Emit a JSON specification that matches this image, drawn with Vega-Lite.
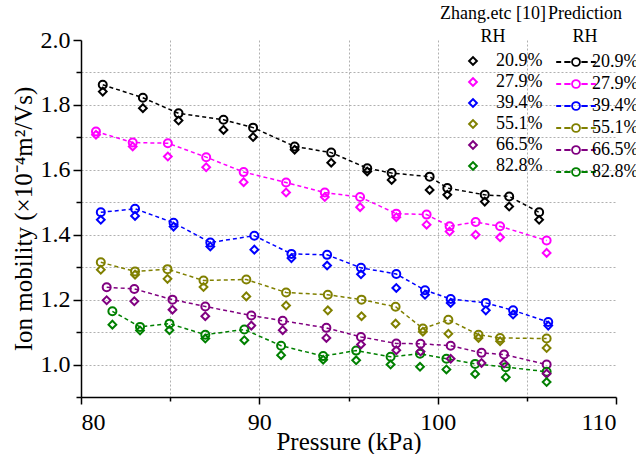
{
  "$schema": "https://vega.github.io/schema/vega-lite/v6.json",
  "width": 535,
  "height": 357,
  "autosize": {"type": "none"},
  "padding": {"left": 81, "top": 40, "right": 20, "bottom": 57},
  "background": "white",
  "config": {
    "view": {"stroke": null},
    "font": "Liberation Serif",
    "axis": {
      "domainColor": "black", "domainWidth": 1.5,
      "tickColor": "black", "tickWidth": 1.5,
      "labelFont": "Liberation Serif", "labelFontSize": 24, "labelColor": "black",
      "titleFont": "Liberation Serif", "titleFontSize": 25, "titleFontWeight": "normal", "titleColor": "black",
      "gridColor": "#b0b0b0", "gridDash": [2, 2], "gridWidth": 1,
      "labelOverlap": false, "labelBound": false
    },
    "legend": {
      "labelFont": "Liberation Serif", "labelFontSize": 18, "labelColor": "black",
      "titleFont": "Liberation Serif", "titleFontSize": 18, "titleFontWeight": "normal", "titleColor": "black",
      "titleAnchor": "middle", "titleAlign": "center", "titleLineHeight": 23,
      "rowPadding": 3, "titlePadding": 6
    }
  },
  "data": {
    "values": [
      {"rh": "20.9%", "p": 81.22, "pred": 1.862, "zhang": 1.841},
      {"rh": "20.9%", "p": 83.47, "pred": 1.822, "zhang": 1.790},
      {"rh": "20.9%", "p": 85.47, "pred": 1.774, "zhang": 1.752},
      {"rh": "20.9%", "p": 87.99, "pred": 1.754, "zhang": 1.723},
      {"rh": "20.9%", "p": 89.65, "pred": 1.730, "zhang": 1.701},
      {"rh": "20.9%", "p": 91.98, "pred": 1.672, "zhang": 1.662},
      {"rh": "20.9%", "p": 94.03, "pred": 1.653, "zhang": 1.622},
      {"rh": "20.9%", "p": 96.05, "pred": 1.605, "zhang": 1.595},
      {"rh": "20.9%", "p": 97.42, "pred": 1.590, "zhang": 1.569},
      {"rh": "20.9%", "p": 99.55, "pred": 1.579, "zhang": 1.538},
      {"rh": "20.9%", "p": 100.54, "pred": 1.544, "zhang": 1.523},
      {"rh": "20.9%", "p": 102.64, "pred": 1.523, "zhang": 1.502},
      {"rh": "20.9%", "p": 104.01, "pred": 1.518, "zhang": 1.487},
      {"rh": "20.9%", "p": 105.69, "pred": 1.469, "zhang": 1.446},
      {"rh": "27.9%", "p": 80.84, "pred": 1.718, "zhang": 1.708},
      {"rh": "27.9%", "p": 82.90, "pred": 1.684, "zhang": 1.672},
      {"rh": "27.9%", "p": 84.87, "pred": 1.682, "zhang": 1.641},
      {"rh": "27.9%", "p": 87.02, "pred": 1.639, "zhang": 1.608},
      {"rh": "27.9%", "p": 89.12, "pred": 1.593, "zhang": 1.562},
      {"rh": "27.9%", "p": 91.50, "pred": 1.561, "zhang": 1.530},
      {"rh": "27.9%", "p": 93.67, "pred": 1.530, "zhang": 1.516},
      {"rh": "27.9%", "p": 95.65, "pred": 1.516, "zhang": 1.485},
      {"rh": "27.9%", "p": 97.68, "pred": 1.465, "zhang": 1.454},
      {"rh": "27.9%", "p": 99.38, "pred": 1.462, "zhang": 1.431},
      {"rh": "27.9%", "p": 100.67, "pred": 1.426, "zhang": 1.410},
      {"rh": "27.9%", "p": 102.13, "pred": 1.439, "zhang": 1.400},
      {"rh": "27.9%", "p": 103.50, "pred": 1.426, "zhang": 1.392},
      {"rh": "27.9%", "p": 106.11, "pred": 1.382, "zhang": 1.344},
      {"rh": "39.4%", "p": 81.11, "pred": 1.469, "zhang": 1.446},
      {"rh": "39.4%", "p": 83.03, "pred": 1.480, "zhang": 1.458},
      {"rh": "39.4%", "p": 85.19, "pred": 1.437, "zhang": 1.425},
      {"rh": "39.4%", "p": 87.25, "pred": 1.376, "zhang": 1.364},
      {"rh": "39.4%", "p": 89.72, "pred": 1.397, "zhang": 1.354},
      {"rh": "39.4%", "p": 91.80, "pred": 1.341, "zhang": 1.328},
      {"rh": "39.4%", "p": 93.80, "pred": 1.338, "zhang": 1.305},
      {"rh": "39.4%", "p": 95.70, "pred": 1.298, "zhang": 1.278},
      {"rh": "39.4%", "p": 97.68, "pred": 1.279, "zhang": 1.236},
      {"rh": "39.4%", "p": 99.29, "pred": 1.229, "zhang": 1.215},
      {"rh": "39.4%", "p": 100.73, "pred": 1.202, "zhang": 1.190},
      {"rh": "39.4%", "p": 102.70, "pred": 1.190, "zhang": 1.167},
      {"rh": "39.4%", "p": 104.23, "pred": 1.167, "zhang": 1.154},
      {"rh": "39.4%", "p": 106.20, "pred": 1.131, "zhang": 1.120},
      {"rh": "55.1%", "p": 81.11, "pred": 1.315, "zhang": 1.292},
      {"rh": "55.1%", "p": 83.03, "pred": 1.287, "zhang": 1.277},
      {"rh": "55.1%", "p": 84.85, "pred": 1.294, "zhang": 1.264},
      {"rh": "55.1%", "p": 86.87, "pred": 1.259, "zhang": 1.239},
      {"rh": "55.1%", "p": 89.27, "pred": 1.262, "zhang": 1.210},
      {"rh": "55.1%", "p": 91.50, "pred": 1.222, "zhang": 1.182},
      {"rh": "55.1%", "p": 93.84, "pred": 1.215, "zhang": 1.167},
      {"rh": "55.1%", "p": 95.73, "pred": 1.200, "zhang": 1.149},
      {"rh": "55.1%", "p": 97.64, "pred": 1.178, "zhang": 1.126},
      {"rh": "55.1%", "p": 99.17, "pred": 1.111, "zhang": 1.101},
      {"rh": "55.1%", "p": 100.60, "pred": 1.138, "zhang": 1.095},
      {"rh": "55.1%", "p": 102.29, "pred": 1.092, "zhang": 1.082},
      {"rh": "55.1%", "p": 103.50, "pred": 1.082, "zhang": 1.072},
      {"rh": "55.1%", "p": 106.11, "pred": 1.080, "zhang": 1.051},
      {"rh": "66.5%", "p": 81.44, "pred": 1.238, "zhang": 1.198},
      {"rh": "66.5%", "p": 82.99, "pred": 1.233, "zhang": 1.195},
      {"rh": "66.5%", "p": 85.13, "pred": 1.200, "zhang": 1.169},
      {"rh": "66.5%", "p": 86.97, "pred": 1.179, "zhang": 1.149},
      {"rh": "66.5%", "p": 89.55, "pred": 1.151, "zhang": 1.120},
      {"rh": "66.5%", "p": 91.31, "pred": 1.135, "zhang": 1.106},
      {"rh": "66.5%", "p": 93.76, "pred": 1.113, "zhang": 1.082},
      {"rh": "66.5%", "p": 95.70, "pred": 1.085, "zhang": 1.062},
      {"rh": "66.5%", "p": 97.68, "pred": 1.065, "zhang": 1.044},
      {"rh": "66.5%", "p": 99.04, "pred": 1.064, "zhang": 1.040},
      {"rh": "66.5%", "p": 100.73, "pred": 1.058, "zhang": 1.018},
      {"rh": "66.5%", "p": 102.46, "pred": 1.036, "zhang": 1.005},
      {"rh": "66.5%", "p": 103.72, "pred": 1.031, "zhang": 1.003},
      {"rh": "66.5%", "p": 106.11, "pred": 1.000, "zhang": 0.972},
      {"rh": "82.8%", "p": 81.76, "pred": 1.164, "zhang": 1.123},
      {"rh": "82.8%", "p": 83.31, "pred": 1.116, "zhang": 1.105},
      {"rh": "82.8%", "p": 84.96, "pred": 1.126, "zhang": 1.106},
      {"rh": "82.8%", "p": 86.97, "pred": 1.092, "zhang": 1.080},
      {"rh": "82.8%", "p": 89.16, "pred": 1.108, "zhang": 1.075},
      {"rh": "82.8%", "p": 91.22, "pred": 1.058, "zhang": 1.029},
      {"rh": "82.8%", "p": 93.58, "pred": 1.026, "zhang": 1.015},
      {"rh": "82.8%", "p": 95.43, "pred": 1.043, "zhang": 1.013},
      {"rh": "82.8%", "p": 97.36, "pred": 1.024, "zhang": 1.000},
      {"rh": "82.8%", "p": 99.01, "pred": 1.033, "zhang": 0.993},
      {"rh": "82.8%", "p": 100.49, "pred": 1.018, "zhang": 0.985},
      {"rh": "82.8%", "p": 102.10, "pred": 1.002, "zhang": 0.971},
      {"rh": "82.8%", "p": 103.82, "pred": 0.992, "zhang": 0.961},
      {"rh": "82.8%", "p": 106.11, "pred": 0.978, "zhang": 0.946}
    ]
  },
  "encoding": {
    "x": {
      "field": "p", "type": "quantitative",
      "scale": {"domain": [80, 110], "nice": false, "zero": false},
      "axis": {
        "title": "Pressure (kPa)",
        "values": [80, 85, 90, 95, 100, 105, 110],
        "labelExpr": "datum.value % 10 === 0 ? datum.label : ''",
        "tickSize": {"condition": {"test": "datum.value % 10 === 0", "value": 7}, "value": 4},
        "gridOpacity": {"condition": {"test": "datum.value === 80 || datum.value === 110", "value": 0}, "value": 1},
        "labelPadding": 6, "titlePadding": -5
      }
    },
    "y": {
      "field": "pred", "type": "quantitative",
      "scale": {"domain": [0.9, 2.0], "nice": false, "zero": false},
      "axis": {
        "title": "Ion mobility (×10⁻⁴m²/Vs)",
        "values": [0.9, 1.0, 1.1, 1.2, 1.3, 1.4, 1.5, 1.6, 1.7, 1.8, 1.9, 2.0],
        "labelExpr": "round(datum.value * 10) % 2 === 0 ? format(datum.value, '.1f') : ''",
        "tickSize": {"condition": {"test": "round(datum.value * 10) % 2 === 0", "value": 8}, "value": 5},
        "gridOpacity": {"condition": {"test": "datum.value < 0.95 || datum.value > 1.95", "value": 0}, "value": 1},
        "labelPadding": 3, "titlePadding": 4
      }
    }
  },
  "layer": [
    {
      "mark": {"type": "line", "strokeDash": [4, 3], "strokeWidth": 1.5},
      "encoding": {
        "color": {"field": "rh", "type": "nominal",
          "scale": {"domain": ["20.9%", "27.9%", "39.4%", "55.1%", "66.5%", "82.8%"], "range": ["#000000", "#ff00ff", "#0000ff", "#808000", "#800080", "#008000"]},
          "legend": {
            "title": ["Prediction", "RH"],
            "orient": "none", "legendX": 451, "legendY": -35,
            "symbolType": "M-2.2,0H-1.65M-1.3,0H-0.6M0.6,0H1.3M1.65,0H2.2M0.44,0A0.44,0.44,0,1,1,-0.44,0A0.44,0.44,0,1,1,0.44,0Z",
            "symbolSize": 324, "symbolStrokeWidth": 1.8, "symbolOffset": 34, "labelOffset": 6,
            "symbolDash": [100, 0], "symbolFillColor": "transparent"
          }}
      }
    },
    {
      "mark": {"type": "point", "shape": "circle", "filled": false, "size": 64, "strokeWidth": 2, "opacity": 1},
      "encoding": {
        "color": {"field": "rh", "type": "nominal",
          "scale": {"domain": ["20.9%", "27.9%", "39.4%", "55.1%", "66.5%", "82.8%"], "range": ["#000000", "#ff00ff", "#0000ff", "#808000", "#800080", "#008000"]},
          "legend": {
            "title": ["Prediction", "RH"],
            "orient": "none", "legendX": 451, "legendY": -35,
            "symbolType": "M-2.2,0H-1.65M-1.3,0H-0.6M0.6,0H1.3M1.65,0H2.2M0.44,0A0.44,0.44,0,1,1,-0.44,0A0.44,0.44,0,1,1,0.44,0Z",
            "symbolSize": 324, "symbolStrokeWidth": 1.8, "symbolOffset": 34, "labelOffset": 6,
            "symbolDash": [100, 0], "symbolFillColor": "transparent"
          }}
      }
    },
    {
      "mark": {"type": "point", "shape": "diamond", "filled": false, "size": 60, "strokeWidth": 2, "opacity": 1},
      "encoding": {
        "y": {"field": "zhang", "type": "quantitative"},
        "stroke": {"field": "rh", "type": "nominal",
          "scale": {"range": ["#000000", "#ff00ff", "#0000ff", "#808000", "#800080", "#008000"]},
          "legend": {
            "title": ["Zhang.etc [10]", "RH"],
            "orient": "none", "legendX": 359, "legendY": -35,
            "symbolType": "diamond", "symbolSize": 60, "symbolStrokeWidth": 2,
            "symbolOffset": 20, "labelOffset": 14
          }}
      }
    }
  ]
}
